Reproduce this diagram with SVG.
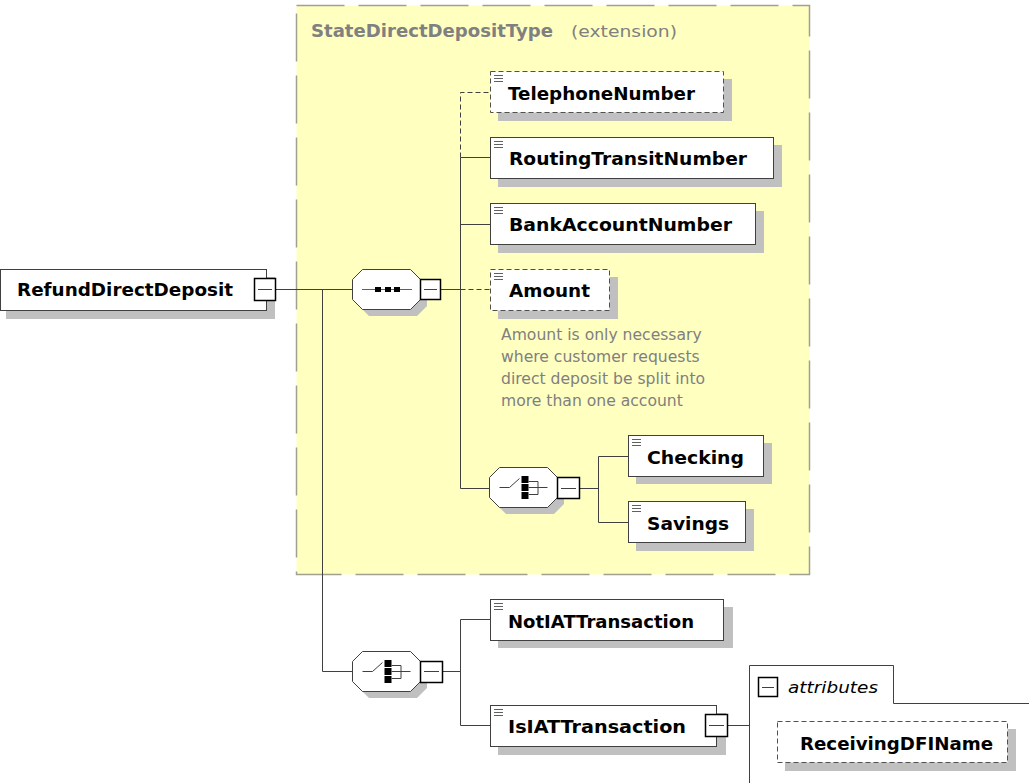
<svg xmlns="http://www.w3.org/2000/svg" width="1029" height="783" viewBox="0 0 1029 783">
<style>
.bg{fill:#ffffff}
.ext{fill:#ffffc0;stroke:#a0a090;stroke-width:1.5;stroke-dasharray:48,14}
.shadow{fill:#c0c0c0;stroke:none}
.box{fill:#ffffff;stroke:#404040;stroke-width:1}
.dbox{fill:#ffffff;stroke:#505050;stroke-width:1;stroke-dasharray:5,3}
.minus{fill:#ffffff;stroke:#000000;stroke-width:1.5}
.mline{stroke:#404040;stroke-width:1}
.conn{fill:none;stroke:#404040;stroke-width:1}
.dconn{fill:none;stroke:#404040;stroke-width:1;stroke-dasharray:5,3}
.ico{stroke:#606060;stroke-width:1}
.lbl{font-family:"DejaVu Sans","Liberation Sans",sans-serif;font-weight:bold;font-size:17px;fill:#000000}
.ttl{font-family:"DejaVu Sans","Liberation Sans",sans-serif;font-weight:bold;font-size:17px;fill:#808080}
.ext-t{font-family:"DejaVu Sans","Liberation Sans",sans-serif;font-size:16.5px;fill:#808080}
.ann{font-family:"DejaVu Sans","Liberation Sans",sans-serif;font-size:15.6px;fill:#808080}
.attr-t{font-family:"DejaVu Sans","Liberation Sans",sans-serif;font-style:italic;font-size:16.5px;fill:#000000}
.oct{fill:#ffffff;stroke:#404040;stroke-width:1}
.sq{fill:#000000}
</style>
<defs>
<path id="octShape" d="M10,0 H58 L68,10 V30 L58,40 H10 L0,30 V10 Z"/>
<g id="seqIcon">
<line class="ico" x1="10" y1="20.5" x2="60" y2="20.5" stroke="#404040"/>
<rect class="sq" x="23" y="18" width="6" height="5"/>
<rect class="sq" x="33" y="18" width="6" height="5"/>
<rect class="sq" x="42" y="18" width="6" height="5"/>
</g>
<g id="choiceIcon" fill="none" stroke="#404040" stroke-width="1">
<path d="M10,20.5 H20 L30,11.5"/>
<rect x="32" y="9" width="7" height="7" fill="#000" stroke="none"/>
<rect x="32" y="17" width="7" height="7" fill="#000" stroke="none"/>
<rect x="32" y="25" width="7" height="7" fill="#000" stroke="none"/>
<path d="M39,14.5 H48.5 V27.5 H39 M39,20.5 H58"/>
</g>
<g id="docIcon">
<line x1="0" y1="0.5" x2="9" y2="0.5"/>
<line x1="0" y1="3.5" x2="9" y2="3.5"/>
<line x1="0" y1="6.5" x2="9" y2="6.5"/>
</g>
</defs>

<rect class="bg" x="0" y="0" width="1029" height="783"/>

<g id="extension">
<rect class="ext" x="296.5" y="5.5" width="513" height="569"/>
<text class="ttl" x="311" y="37" textLength="242" lengthAdjust="spacingAndGlyphs">StateDirectDepositType</text>
<text class="ext-t" x="571" y="37" textLength="106" lengthAdjust="spacingAndGlyphs">(extension)</text>
</g>

<g id="connectors">
<path class="conn" d="M276,289.5 H352"/>
<path class="conn" d="M322.5,289.5 V671.5 H352"/>
<path class="conn" d="M441,289.5 H460.5"/>
<path class="conn" d="M460.5,157.5 V488.5 H490"/>
<path class="conn" d="M460.5,157.5 H490"/>
<path class="conn" d="M460.5,224.5 H490"/>
<path class="dconn" d="M460.5,157.5 V92.5 H490"/>
<path class="dconn" d="M460.5,289.5 H490"/>
<path class="conn" d="M580,488.5 H598.5"/>
<path class="conn" d="M628,456.5 H598.5 V522.5 H628"/>
<path class="conn" d="M443,671.5 H460.5"/>
<path class="conn" d="M490,619.5 H460.5 V725.5 H490"/>
<path class="conn" d="M728,725.5 H749"/>
</g>

<g id="RefundDirectDeposit">
<rect class="shadow" x="6" y="277" width="269" height="42"/>
<rect class="box" x="0.5" y="269.5" width="266" height="41"/>
<rect class="minus" x="254.5" y="278.5" width="21" height="22"/>
<line class="mline" x1="258" y1="289.5" x2="272" y2="289.5"/>
<text class="lbl" x="17" y="296" textLength="216" lengthAdjust="spacingAndGlyphs">RefundDirectDeposit</text>
</g>

<g id="sequence">
<use href="#octShape" x="359" y="276" class="shadow"/>
<use href="#octShape" x="352.5" y="269.5" class="oct"/>
<use href="#seqIcon" x="352" y="269"/>
<rect class="minus" x="420.5" y="279.5" width="20" height="20"/>
<line class="mline" x1="424" y1="289.5" x2="437" y2="289.5"/>
</g>

<g id="TelephoneNumber">
<rect class="shadow" x="498" y="79" width="234" height="42"/>
<rect class="dbox" x="490.5" y="71.5" width="233" height="41"/>
<use href="#docIcon" x="494" y="75" class="ico"/>
<text class="lbl" x="508" y="100" textLength="187" lengthAdjust="spacingAndGlyphs">TelephoneNumber</text>
</g>

<g id="RoutingTransitNumber">
<rect class="shadow" x="498" y="145" width="284" height="42"/>
<rect class="box" x="490.5" y="137.5" width="283" height="41"/>
<use href="#docIcon" x="494" y="141" class="ico"/>
<text class="lbl" x="509" y="165" textLength="238" lengthAdjust="spacingAndGlyphs">RoutingTransitNumber</text>
</g>

<g id="BankAccountNumber">
<rect class="shadow" x="498" y="211" width="266" height="42"/>
<rect class="box" x="490.5" y="203.5" width="265" height="41"/>
<use href="#docIcon" x="494" y="207" class="ico"/>
<text class="lbl" x="509" y="231" textLength="223" lengthAdjust="spacingAndGlyphs">BankAccountNumber</text>
</g>

<g id="Amount">
<rect class="shadow" x="498" y="277" width="120" height="42"/>
<rect class="dbox" x="490.5" y="269.5" width="119" height="41"/>
<use href="#docIcon" x="494" y="273" class="ico"/>
<text class="lbl" x="509" y="297" textLength="81" lengthAdjust="spacingAndGlyphs">Amount</text>
<text class="ann" x="501" y="340">Amount is only necessary</text>
<text class="ann" x="501" y="362">where customer requests</text>
<text class="ann" x="501" y="384">direct deposit be split into</text>
<text class="ann" x="501" y="406">more than one account</text>
</g>

<g id="choice1">
<use href="#octShape" x="496" y="474" class="shadow"/>
<use href="#octShape" x="489.5" y="467.5" class="oct"/>
<use href="#choiceIcon" x="489.5" y="467"/>
<rect class="minus" x="557.5" y="477.5" width="22" height="21"/>
<line class="mline" x1="561" y1="488.5" x2="576" y2="488.5"/>
</g>

<g id="Checking">
<rect class="shadow" x="636" y="443" width="136" height="41"/>
<rect class="box" x="628.5" y="435.5" width="135" height="41"/>
<use href="#docIcon" x="632" y="439" class="ico"/>
<text class="lbl" x="647" y="464" textLength="97" lengthAdjust="spacingAndGlyphs">Checking</text>
</g>

<g id="Savings">
<rect class="shadow" x="636" y="509" width="118" height="42"/>
<rect class="box" x="628.5" y="501.5" width="117" height="41"/>
<use href="#docIcon" x="632" y="505" class="ico"/>
<text class="lbl" x="647" y="530" textLength="82" lengthAdjust="spacingAndGlyphs">Savings</text>
</g>

<g id="choice2">
<use href="#octShape" x="359" y="658" class="shadow"/>
<use href="#octShape" x="352.5" y="651.5" class="oct"/>
<use href="#choiceIcon" x="352.5" y="651"/>
<rect class="minus" x="420.5" y="661.5" width="22" height="21"/>
<line class="mline" x1="424" y1="671.5" x2="439" y2="671.5"/>
</g>

<g id="NotIATTransaction">
<rect class="shadow" x="498" y="607" width="235" height="41"/>
<rect class="box" x="490.5" y="599.5" width="233" height="41"/>
<use href="#docIcon" x="494" y="603" class="ico"/>
<text class="lbl" x="508" y="628" textLength="186" lengthAdjust="spacingAndGlyphs">NotIATTransaction</text>
</g>

<g id="IsIATTransaction">
<rect class="shadow" x="498" y="713" width="228" height="42"/>
<rect class="box" x="490.5" y="705.5" width="226" height="41"/>
<use href="#docIcon" x="494" y="709" class="ico"/>
<text class="lbl" x="508" y="733" textLength="178" lengthAdjust="spacingAndGlyphs">IsIATTransaction</text>
<rect class="minus" x="705.5" y="714.5" width="22" height="22"/>
<line class="mline" x1="709" y1="725.5" x2="724" y2="725.5"/>
</g>

<g id="attributes">
<path class="conn" d="M749.5,783 V665.5 H893.5 V703.5 H1029"/>
<rect class="minus" x="758.5" y="677.5" width="19" height="19" stroke-width="1.2"/>
<line class="mline" x1="762" y1="687.5" x2="774" y2="687.5"/>
<text class="attr-t" x="788" y="693" textLength="90" lengthAdjust="spacingAndGlyphs">attributes</text>
</g>

<g id="ReceivingDFIName">
<rect class="shadow" x="785" y="729" width="231" height="42"/>
<rect class="dbox" x="777.5" y="721.5" width="230" height="41"/>
<text class="lbl" x="800" y="750" textLength="193" lengthAdjust="spacingAndGlyphs">ReceivingDFIName</text>
</g>
</svg>
